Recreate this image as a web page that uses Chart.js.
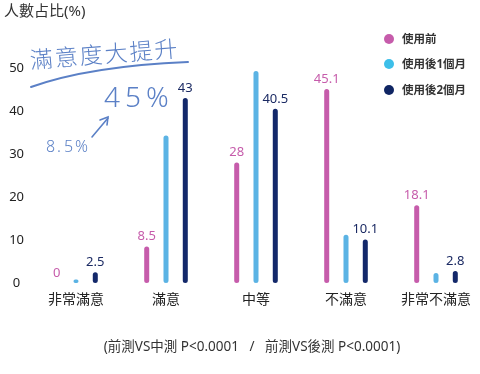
<!DOCTYPE html>
<html>
<head>
<meta charset="utf-8">
<script src="https://cdn.jsdelivr.net/npm/chart.js@4.4.1/dist/chart.umd.min.js"></script>
<style>
html,body{margin:0;padding:0;background:#fff;overflow:hidden;}
#wrap{width:480px;height:374px;}
</style>
</head>
<body>
<div id="wrap"><canvas id="c" width="480" height="374"></canvas></div>
<script>
// ---- data ----
const categories = ['非常滿意', '滿意', '中等', '不滿意', '非常不滿意'];
const seriesNames = ['使用前', '使用後1個月', '使用後2個月'];
const beforeValues = [0, 8.5, 28, 45.1, 18.1];
const month1Values = [0.8, 34.3, 49.3, 11.2, 2.3];
const month2Values = [2.5, 43, 40.5, 10.1, 2.8];
const yTicks = [0, 10, 20, 30, 40, 50];
const titleText = '人數占比(%)';
const footText = '(前測VS中測 P<0.0001   /   前測VS後測 P<0.0001)';
const noteTitle = '滿意度大提升';
const noteBig = '45%';
const noteSmall = '8.5%';

const barColors = ['#c65cab', '#5bb3e4', '#13286a'];
const legendColors = ['#c65cab', '#3dbfe9', '#0f2563'];
const FONT = "'Noto Sans', 'Noto Sans CJK TC', sans-serif";

const labelsPlugin = {
  id: 'valueLabels',
  afterDatasetsDraw(chart) {
    const ctx = chart.ctx;
    const base = chart.scales.y.getPixelForValue(0);
    chart.data.datasets.forEach((ds, i) => {
      if (!ds.showValues) return;
      const meta = chart.getDatasetMeta(i);
      meta.data.forEach((bar, j) => {
        const v = ds.data[j];
        ctx.save();
        ctx.font = '13px ' + FONT;
        ctx.fillStyle = ds.labelColor;
        ctx.textAlign = 'center';
        ctx.textBaseline = 'middle';
        const y = Math.min(bar.y - 10, base - 6);
        ctx.fillText(String(v), bar.x, y);
        ctx.restore();
      });
    });
  }
};

const decorPlugin = {
  id: 'decor',
  afterDraw(chart) {
    const ctx = chart.ctx;
    ctx.save();
    // title
    ctx.font = '15px ' + FONT;
    ctx.fillStyle = '#333';
    ctx.textAlign = 'left';
    ctx.textBaseline = 'middle';
    ctx.fillText(titleText, 4, 12);
    // footnote
    ctx.font = '13.5px ' + FONT;
    ctx.fillStyle = '#333';
    ctx.textAlign = 'center';
    ctx.fillText(footText, 252, 347);
    // legend
    ctx.textAlign = 'left';
    ctx.font = 'bold 11.5px ' + FONT;
    const ly = [39, 64, 90];
    chart.data.datasets.forEach((ds, i) => {
      ctx.fillStyle = legendColors[i];
      ctx.beginPath();
      ctx.arc(389, ly[i], 5, 0, Math.PI * 2);
      ctx.fill();
      ctx.fillStyle = '#333';
      ctx.fillText(ds.label, 402, ly[i] + 0.5);
    });
    // handwritten note
    const blue = '#5b80c6';
    ctx.fillStyle = blue;
    ctx.strokeStyle = blue;
    ctx.save();
    ctx.translate(30, 62);
    ctx.rotate(-0.08);
    ctx.font = '300 23px ' + FONT;
    ctx.textAlign = 'left';
    ctx.textBaseline = 'middle';
    let x = 0;
    for (const ch of noteTitle) { ctx.fillText(ch, x, 0); x += 25; }
    ctx.restore();
    // swoosh
    ctx.lineCap = 'round';
    ctx.lineWidth = 2;
    ctx.beginPath();
    ctx.moveTo(31, 87);
    ctx.quadraticCurveTo(90, 66, 188, 62);
    ctx.stroke();
    // 45%
    ctx.font = '300 28px ' + FONT;
    ctx.textBaseline = 'middle';
    x = 104;
    for (const ch of noteBig) { ctx.fillText(ch, x, 99); x += 21; }
    // 8.5%
    ctx.font = '300 16px ' + FONT;
    x = 46;
    for (const ch of noteSmall) { ctx.fillText(ch, x, 147); x += ch === '.' ? 7 : 11; }
    // arrow
    ctx.lineWidth = 1.6;
    ctx.beginPath();
    ctx.moveTo(92, 137);
    ctx.lineTo(108, 118);
    ctx.stroke();
    ctx.beginPath();
    ctx.moveTo(100, 120);
    ctx.lineTo(108, 117);
    ctx.lineTo(107, 125);
    ctx.stroke();
    ctx.restore();
  }
};

const makeDs = (label, data, i, show) => ({
  label, data,
  backgroundColor: barColors[i],
  borderRadius: 3,
  borderSkipped: false,
  categoryPercentage: 0.643,
  barPercentage: 0.26,
  clip: false,
  showValues: show,
  labelColor: i === 0 ? '#c65cab' : '#1b2a63'
});

new Chart(document.getElementById('c'), {
  type: 'bar',
  data: {
    labels: categories,
    datasets: [
      makeDs(seriesNames[0], beforeValues, 0, true),
      makeDs(seriesNames[1], month1Values, 1, false),
      makeDs(seriesNames[2], month2Values, 2, true)
    ]
  },
  options: {
    responsive: false,
    animation: false,
    layout: { padding: { top: 68, right: 40, bottom: 63, left: 0 } },
    plugins: { legend: { display: false }, tooltip: { enabled: false }, title: { display: false } },
    scales: {
      x: {
        offset: false,
        grid: { display: false, drawTicks: false },
        border: { display: false },
        ticks: { color: '#222', font: { size: 14, family: FONT }, padding: 9, maxRotation: 0, autoSkip: false },
        afterFit(s) { s.height = 28; }
      },
      y: {
        min: 0, max: 50,
        grid: { display: false, drawTicks: false },
        border: { display: false },
        afterBuildTicks(s) { s.ticks = yTicks.map(v => ({ value: v })); },
        ticks: { color: '#222', font: { size: 13, family: FONT }, crossAlign: 'center', padding: 52 },
        afterFit(s) { s.width = 76; }
      }
    }
  },
  plugins: [labelsPlugin, decorPlugin]
});
</script>
</body>
</html>
